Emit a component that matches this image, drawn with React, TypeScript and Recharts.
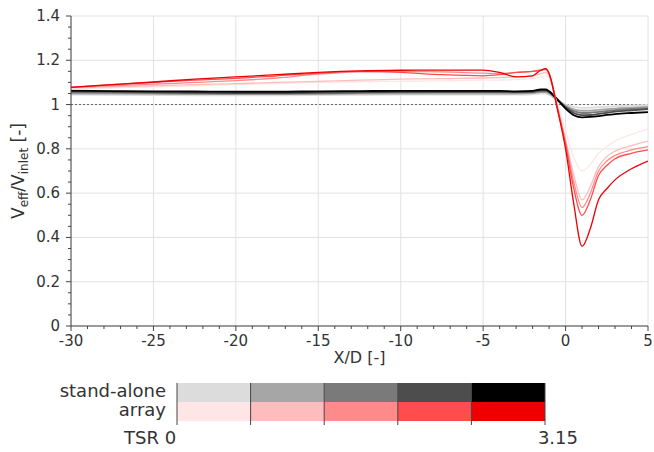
import React from "react";
import {
  LineChart,
  Line,
  XAxis,
  YAxis,
  CartesianGrid,
  ReferenceLine,
} from "recharts";

// x positions (X/D) shared by every curve
const xPos = [
  -30, -27.5, -25, -22.5, -20, -17.5, -15, -12.5, -10, -7.5, -5, -4, -3, -2,
  -1.5, -1.2, -1, -0.5, 0, 0.5, 1, 1.5, 2, 2.5, 3, 4, 5,
];

// stand-alone turbine, TSR low -> high
const stand1 = [1.045, 1.044, 1.043, 1.042, 1.042, 1.042, 1.043, 1.044, 1.045, 1.045, 1.045, 1.045, 1.045, 1.046, 1.05, 1.05, 1.045, 1.02, 1.0, 0.99, 0.985, 0.986, 0.988, 0.99, 0.992, 0.995, 0.997];
const stand2 = [1.05, 1.049, 1.048, 1.047, 1.047, 1.047, 1.048, 1.05, 1.05, 1.05, 1.05, 1.05, 1.05, 1.052, 1.056, 1.056, 1.05, 1.02, 0.995, 0.978, 0.972, 0.973, 0.976, 0.979, 0.982, 0.986, 0.99];
const stand3 = [1.055, 1.054, 1.052, 1.051, 1.05, 1.05, 1.051, 1.053, 1.055, 1.056, 1.056, 1.056, 1.055, 1.056, 1.06, 1.06, 1.055, 1.022, 0.99, 0.97, 0.962, 0.963, 0.967, 0.971, 0.975, 0.98, 0.984];
const stand4 = [1.06, 1.058, 1.056, 1.054, 1.052, 1.052, 1.054, 1.056, 1.058, 1.058, 1.058, 1.058, 1.056, 1.058, 1.064, 1.064, 1.058, 1.025, 0.988, 0.962, 0.952, 0.953, 0.958, 0.963, 0.968, 0.974, 0.979];
const stand5 = [1.063, 1.061, 1.06, 1.059, 1.058, 1.058, 1.06, 1.061, 1.062, 1.062, 1.062, 1.062, 1.06, 1.062, 1.068, 1.068, 1.06, 1.022, 0.982, 0.952, 0.942, 0.944, 0.948, 0.953, 0.957, 0.962, 0.966];

// turbine in array, TSR low -> high
const array1 = [1.07, 1.075, 1.08, 1.085, 1.09, 1.095, 1.1, 1.103, 1.105, 1.107, 1.11, 1.11, 1.113, 1.118, 1.125, 1.13, 1.12, 1.0, 0.88, 0.76, 0.7, 0.73, 0.78, 0.81, 0.835, 0.865, 0.89];
const array2 = [1.075, 1.08, 1.085, 1.09, 1.095, 1.1, 1.105, 1.11, 1.115, 1.117, 1.12, 1.122, 1.125, 1.13, 1.14, 1.145, 1.13, 0.99, 0.84, 0.68, 0.57, 0.63, 0.72, 0.765, 0.79, 0.815, 0.835];
const array3 = [1.078, 1.085, 1.092, 1.1, 1.108, 1.12, 1.138, 1.148, 1.15, 1.148, 1.142, 1.14, 1.145, 1.15, 1.155, 1.158, 1.14, 0.99, 0.83, 0.65, 0.535, 0.6, 0.7, 0.745, 0.77, 0.795, 0.81];
const array4 = [1.078, 1.09, 1.1, 1.11, 1.118, 1.13, 1.142, 1.15, 1.145, 1.135, 1.13, 1.135, 1.145, 1.15, 1.156, 1.16, 1.14, 0.985, 0.82, 0.62, 0.5, 0.57, 0.68, 0.725, 0.755, 0.78, 0.795];
const array5 = [1.078, 1.09, 1.102, 1.115, 1.125, 1.135, 1.145, 1.152, 1.155, 1.156, 1.156, 1.145, 1.125, 1.13, 1.155, 1.162, 1.14, 0.98, 0.8, 0.55, 0.36, 0.44, 0.57, 0.62, 0.66, 0.71, 0.745];

const xTicks = [-30, -25, -20, -15, -10, -5, 0, 5];
const xAllTicks = Array.from({ length: 36 }, (_, i) => i - 30);
const yTicks = [0, 0.2, 0.4, 0.6, 0.8, 1, 1.2, 1.4];
const yAllTicks = Array.from({ length: 29 }, (_, i) => Math.round(i * 5) / 100);

const standSeries = [stand1, stand2, stand3, stand4, stand5];
const arraySeries = [array1, array2, array3, array4, array5];
const standColors = ["#dcdcdc", "#a6a6a6", "#7a7a7a", "#4d4d4d", "#000000"];
const arrayColors = ["#ffe6e6", "#ffbcbc", "#ff8a8a", "#ff4d4d", "#ee0000"];

const data = xPos.map((x, i) => {
  const row: Record<string, number> = { x };
  standSeries.forEach((s, k) => (row[`s${k}`] = s[i]));
  arraySeries.forEach((s, k) => (row[`a${k}`] = s[i]));
  return row;
});

const font = "'DejaVu Sans', Verdana, sans-serif";
const axisColor = "#444";
const textColor = "#333";

const isMajorX = (v: number) => xTicks.includes(v);
const isMajorY = (v: number) => yTicks.some((t) => Math.abs(t - v) < 1e-9);

// bottom axis: tick mark for every unit, label only on majors
function XTick(props: any) {
  const { x, y, payload } = props;
  const v = payload.value as number;
  const major = isMajorX(v);
  return (
    <g>
      <line x1={x} x2={x} y1={y} y2={y + (major ? 5 : 3)} stroke={axisColor} />
      {major && (
        <text x={x} y={y + 20} textAnchor="middle" fontSize={15} fontFamily={font} fill={textColor}>
          {v}
        </text>
      )}
    </g>
  );
}

function YTick(props: any) {
  const { x, y, payload } = props;
  const v = payload.value as number;
  const major = isMajorY(v);
  return (
    <g>
      <line x1={x - (major ? 5 : 3)} x2={x} y1={y} y2={y} stroke={axisColor} />
      {major && (
        <text x={x - 11} y={y + 5} textAnchor="end" fontSize={15} fontFamily={font} fill={textColor}>
          {Number.isInteger(v) ? String(v) : v.toFixed(1)}
        </text>
      )}
    </g>
  );
}

function YLabel() {
  return (
    <text
      x={24}
      y={171}
      transform="rotate(-90 24 171)"
      textAnchor="middle"
      fontFamily={font}
      fontSize={17}
      fill={textColor}
    >
      V
      <tspan fontSize={12} dy={4}>eff</tspan>
      <tspan dy={-4}>/V</tspan>
      <tspan fontSize={12} dy={4}>inlet</tspan>
      <tspan dy={-4}> [-]</tspan>
    </text>
  );
}

function Legend() {
  const left = 177;
  const cell = 73.6;
  const top = 383;
  const rowH = 19;
  return (
    <svg width={654} height={80} style={{ position: "absolute", left: 0, top: 372 }}>
      <g transform="translate(0,-372)" fontFamily={font} fill={textColor}>
        <text x={166} y={top + 14} textAnchor="end" fontSize={18}>stand-alone</text>
        <text x={166} y={top + rowH + 14} textAnchor="end" fontSize={18}>array</text>
        {standColors.map((c, i) => (
          <rect key={`s${i}`} x={left + i * cell} y={top} width={cell} height={rowH} fill={c} />
        ))}
        {arrayColors.map((c, i) => (
          <rect key={`a${i}`} x={left + i * cell} y={top + rowH} width={cell} height={rowH} fill={c} />
        ))}
        {standColors.concat("").map((_, i) => (
          <line
            key={`l${i}`}
            x1={left + i * cell}
            x2={left + i * cell}
            y1={top}
            y2={top + 2 * rowH + 4}
            stroke={axisColor}
            strokeWidth={1}
          />
        ))}
        <text x={124} y={top + 61} fontSize={18}>TSR 0</text>
        <text x={578} y={top + 61} textAnchor="end" fontSize={18}>3.15</text>
      </g>
    </svg>
  );
}

export default function App() {
  return (
    <div
      style={{
        position: "absolute",
        left: 0,
        top: 0,
        width: 654,
        height: 452,
        background: "#fff",
      }}
    >
      <LineChart
        width={654}
        height={372}
        data={data}
        margin={{ top: 16, right: 6, left: 0, bottom: 36 }}
      >
        <CartesianGrid stroke="#e2e2e2" strokeWidth={1} horizontalValues={yTicks} verticalValues={xTicks} />
        <XAxis
          dataKey="x"
          type="number"
          domain={[-30, 5]}
          ticks={xAllTicks}
          interval={0}
          allowDataOverflow
          stroke={axisColor}
          tickLine={false}
          tickSize={0}
          tickMargin={0}
          tick={<XTick />}
          height={10}
          label={{
            value: "X/D [-]",
            position: "insideBottom",
            offset: -27,
            fill: textColor,
            fontSize: 16,
            fontFamily: font,
          }}
        />
        <YAxis
          type="number"
          domain={[0, 1.4]}
          ticks={yAllTicks}
          interval={0}
          allowDataOverflow
          stroke={axisColor}
          tickLine={false}
          tickSize={0}
          tickMargin={0}
          width={71}
          tick={<YTick />}
          label={<YLabel />}
        />
        <ReferenceLine y={1} stroke="#666" strokeDasharray="2 2" strokeWidth={1} />
        {standColors.map((c, k) => (
          <Line
            key={`s${k}`}
            dataKey={`s${k}`}
            type="monotone"
            stroke={c}
            strokeWidth={1.8}
            dot={false}
            isAnimationActive={false}
          />
        ))}
        {arrayColors.map((c, k) => (
          <Line
            key={`a${k}`}
            dataKey={`a${k}`}
            type="monotone"
            stroke={c}
            strokeWidth={1.3}
            dot={false}
            isAnimationActive={false}
          />
        ))}
      </LineChart>
      <Legend />
    </div>
  );
}
